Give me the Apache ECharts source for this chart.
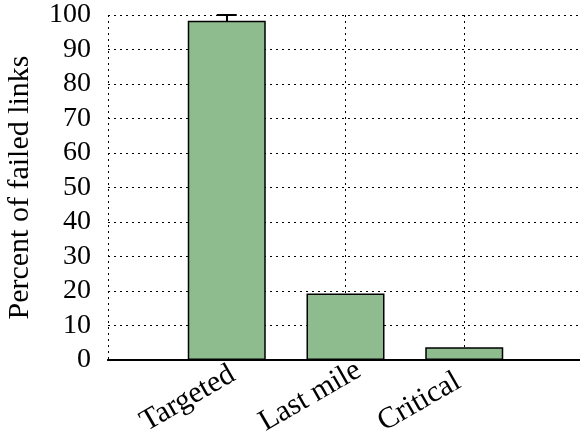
<!DOCTYPE html>
<html><head><meta charset="utf-8">
<script src="https://cdn.jsdelivr.net/npm/echarts@6/dist/echarts.min.js"></script>
<style>html,body{margin:0;padding:0;background:#fff;overflow:hidden}#c{width:580px;height:433px}</style>
</head><body><div id="c"></div>
<script>
const categories = ['Targeted', 'Last mile', 'Critical'];
const values = [98.3, 19.3, 3.7];
const yTicks = [0, 10, 20, 30, 40, 50, 60, 70, 80, 90, 100];
const yLabel = 'Percent of failed links';

const font = 'Liberation Serif';
const chart = echarts.init(document.getElementById('c'), null, {renderer: 'canvas'});
const dotted = {type: [2, 4], color: '#000', width: 1};
const xBase = {
  type: 'value', min: -1, max: categories.length, interval: 1,
  axisLine: {show: true, lineStyle: {color: '#000', width: 2}}
};
const yBase = {
  type: 'value', min: yTicks[0], max: yTicks[yTicks.length - 1], interval: 10,
  axisLine: {show: true, lineStyle: {color: '#000', width: 2}},
  axisTick: {show: true, inside: true, length: 10, lineStyle: {color: '#000', width: 2}}
};
chart.setOption({
  animation: false,
  grid: {left: 108, right: -3, top: 15, bottom: 73, show: false, containLabel: false, outerBoundsMode: 'none'},
  xAxis: [
    Object.assign({}, xBase, {
      position: 'bottom',
      axisTick: {show: true, inside: true, length: 2, lineStyle: {color: '#000'}},
      axisLabel: {
        fontFamily: font, fontSize: 30, color: '#000', rotate: 30, margin: 16,
        align: 'left', verticalAlign: 'middle',
        padding: [0, 0, 0, -97],
        formatter: v => (v >= 0 && v < categories.length) ? categories[v] : ''
      },
      splitLine: {show: true, lineStyle: dotted}
    }),
    Object.assign({}, xBase, {
      position: 'top',
      axisTick: {show: false},
      axisLabel: {show: false},
      splitLine: {show: false}
    })
  ],
  yAxis: [
    Object.assign({}, yBase, {
      position: 'left',
      name: yLabel, nameLocation: 'middle', nameGap: 73,
      nameTextStyle: {fontFamily: font, fontSize: 30, color: '#000'},
      axisLabel: {fontFamily: font, fontSize: 28, color: '#000', margin: 17},
      splitLine: {show: true, lineStyle: dotted}
    }),
    Object.assign({}, yBase, {
      position: 'right',
      axisLabel: {show: false},
      splitLine: {show: false}
    })
  ],
  series: [{
    type: 'bar',
    xAxisIndex: 0, yAxisIndex: 0,
    barWidth: 78,
    data: values.map((v, i) => [i, v]),
    itemStyle: {color: '#8fbc8f', borderColor: '#000', borderWidth: 1.5},
    z: 3
  }]
});
</script></body></html>
